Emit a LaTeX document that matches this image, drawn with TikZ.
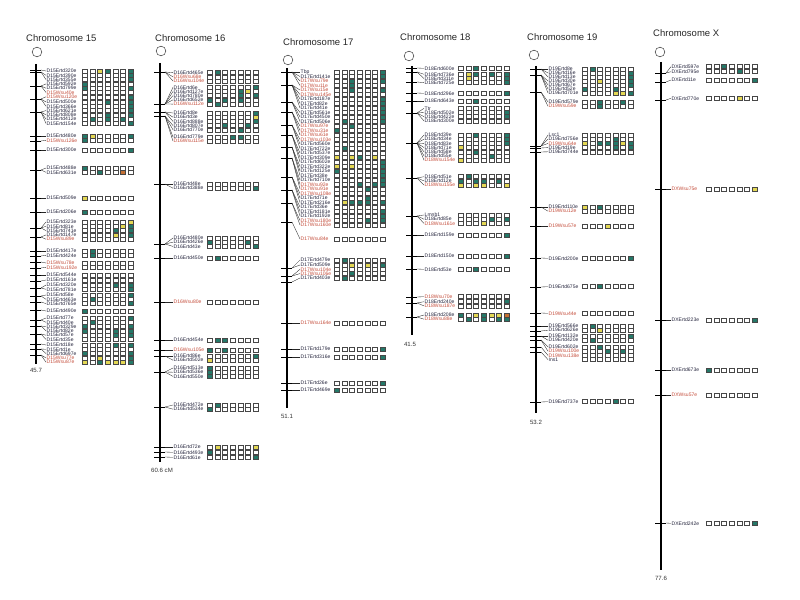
\documentclass[tikz,border=0pt]{standalone}
\usepackage{fontspec}
\setmainfont{Liberation Sans}
\usepackage{xcolor}
\usepackage{tikz}
\usetikzlibrary{positioning}
\definecolor{mkw}{RGB}{255,255,255}
\definecolor{mkt}{RGB}{36,120,104}
\definecolor{mky}{RGB}{228,216,84}
\definecolor{mko}{RGB}{196,112,52}
\definecolor{labk}{RGB}{36,36,60}
\definecolor{labr}{RGB}{196,78,60}
\tikzset{
    chrom/.style={line width=2.4pt, black},
    cen/.style={circle, draw=black!75, line width=0.45pt, minimum size=0.29cm, inner sep=0pt},
    tick/.style={line width=0.5pt, black},
    conn/.style={line width=0.3pt, black!85},
    mlabel/.style={anchor=west, inner sep=0.4pt, font=\fontsize{4.3}{4.5}\selectfont},
    cell/.style={draw=black!72, line width=0.5pt},
    chrtitle/.style={anchor=west, inner sep=0pt, font=\fontsize{8.1}{9}\selectfont, text=black!85},
    endlabel/.style={anchor=north, inner sep=0pt, font=\fontsize{5.2}{6}\selectfont, text=black!80}
}
% one row of seven genotype boxes: x of first box, y, pattern (w/t/y/o)
\newcommand{\cellrow}[3]{\def\cellx{#1}\def\celly{#2}\expandafter\cellnext#3\relax}
\def\cellnext#1{\ifx#1\relax\else
    \draw[cell, fill=mk#1] (\cellx-2.5,\celly-2) rectangle (\cellx+2.5,\celly+2);
    \pgfmathsetmacro\cellx{\cellx+7.6}\expandafter\cellnext\fi}

\begin{document}
\begin{tikzpicture}[x=0.03cm, y=-0.03cm]
    \useasboundingbox (0,0) rectangle (800,600);

    % Chromosome 15
    \begin{scope}[shift={(36,0)}]
        \node[chrtitle] (c15title) at (-10,38) {Chromosome 15};
        \node[cen] (c15cen) at (1,52) {};
        \coordinate (c15top) at (0,64);
        \coordinate (c15bot) at (0,364);
        \draw[chrom] (c15top) -- (c15bot);
        \node[endlabel] (c15end) at (0,368) {45.7};
        \foreach \ty/\ly/\nm/\tc/\pat [count=\n] in {
            70/71/D15Ertd320e/k/wwytwwt, 72/75.3/D15Ertd390e/k/wwwwwwt, 72/79.6/D15Ertd355e/k/wwwwwwt,
            86/83.9/D15Ertd592e/k/twwwwww, 86/88.2/D15Ertd799e/k/twwwwwt, 86/92.5/D15Wsu40e/r/wwwwwww,
            99/96.8/D15Wsu120e/r/wwwwwwt, 99/102/D15Ertd500e/k/wwwtwwt, 99/106.3/D15Ertd366e/k/wwwwwwt,
            112/110.6/D15Ertd621e/k/wwwwwwt, 112/114.9/D15Ertd808e/k/wwwtwwt, 112/119.2/D15Ertd412e/k/wtwtwtw,
            112/123.5/D15Ertd154e/k/wwwwwwt, 136/136/D15Ertd480e/k/tywwwwt, 141/140.3/D15Wsu126e/r/twwwwww,
            150/150/D15Ertd300e/k/wwwwwwt, 170/168/D15Ertd488e/k/twwwwww, 170/172.3/D15Ertd631e/k/wwtwwow,
            198/198/D15Ertd509e/k/ywwwwww, 212/212/D15Ertd206e/k/twwwwww, 228/222/D15Ertd323e/k/wwwwwwy,
            228/226.3/D15Ertd81e/k/wwwwwyt, 228/230.6/D15Ertd741e/k/wwwwtwt, 237/234.9/D15Ertd147e/k/wwwwywt,
            237/239.2/D15Wsu89e/r/wwwwwww, 251/251/D15Ertd417e/k/wtwwwww, 256/255.3/D15Ertd424e/k/wtwwwww,
            262/263/D15Wsu78e/r/wwwwwww, 268/267.3/D15Wsu192e/r/wwwwwww, 275/275/D15Ertd544e/k/wwwwwww,
            281/280/D15Ertd161e/k/wwwwwww, 288/285/D15Ertd320e/k/wwwwtwt, 288/289.3/D15Ertd781e/k/wwwwwwt,
            296/295/D15Ertd58e/k/wwwwwwt, 296/299.3/D15Ertd463e/k/wtwwwww, 302/303.6/D15Ertd765e/k/wwwwwwt,
            310/311/D15Ertd490e/k/twwwwww, 320/318/D15Ertd77e/k/wwwwwwt, 320/322.3/D15Ertd40e/k/wtwwwww,
            326/326.6/D15Ertd329e/k/twwwwwt, 326/330.9/D15Ertd82e/k/twwwtwt, 334/335.2/D15Ertd57e/k/wwwwtwt,
            334/339.5/D15Ertd35e/k/wwwwwww, 344/345/D15Ertd18e/k/wwwwtwt, 349/349.3/D15Ertd1e/k/wwwwwww,
            349/353.6/D15Ertd697e/k/twwwwwt, 355/357.9/D15Wsu77e/r/wwywwwt, 355/362.2/D15Wsu87e/r/ywtyyyt} {
            \draw[tick] (-6,\ty) -- (5,\ty) coordinate (t15-\n);
            \node[mlabel, text=lab\tc] (l15-\n) at (10,\ly) {\nm};
            \draw[conn] (t15-\n) -- (l15-\n.west);
            \cellrow{49}{\ly}{\pat}
        }
    \end{scope}

    % Chromosome 16
    \begin{scope}[shift={(160,0)}]
        \node[chrtitle] (c16title) at (-5,38) {Chromosome 16};
        \node[cen] (c16cen) at (1,51) {};
        \coordinate (c16top) at (0,63);
        \coordinate (c16bot) at (0,462);
        \draw[chrom] (c16top) -- (c16bot);
        \node[endlabel] (c16end) at (2,468) {60.6 cM};
        \foreach \ty/\ly/\nm/\tc/\pat [count=\n] in {
            72/72.7/D16Ertd465e/k/wtwwwww, 72/76.9/D16Wsu68e/r/wwwwwww, 72/81.1/D16Wsu104e/r/wwwwwww,
            104/87.3/D16Ertd6e/k/wwwwwwt, 104/91.5/D16Ertd127e/k/wwwwtyw, 104/95.7/D16Ertd780e/k/wwwwtwt,
            104/99.9/D16Ertd652e/k/twtwtww, 104/104.1/D16Wsu112e/r/wtwwwww, 112/113/D16Ertd8e/k/wwwwwwt,
            112/117.2/D16Ertd3e/k/wwwwwwy, 112/121.4/D16Ertd888e/k/wwwwwwt, 116/125.6/D16Ertd807e/k/wwtwwtw,
            116/129.8/D16Ertd770e/k/wwwwtww, 116/137/D16Ertd779e/k/wwwttww, 116/141.2/D16Wsu115e/r/wwwwwww,
            184/184/D16Ertd48e/k/wwwwwww, 184/188.2/D16Ertd388e/k/wwwwwwt, 244/238/D16Ertd480e/k/wwwwwww,
            244/242.2/D16Ertd426e/k/twwwwtw, 244/246.4/D16Ertd43e/k/wwwwwwt, 258/258/D16Ertd450e/k/wtwwwww,
            302/302/D16Wsu80e/r/wwwwwww, 340/340/D16Ertd454e/k/wttwwww, 350/350/D16Wsu105e/r/twtwwww,
            356/356/D16Ertd86e/k/wwwwwwt, 356/360.2/D16Ertd502e/k/ywwwwww, 372/368/D16Ertd513e/k/twwwwww,
            372/372.2/D16Ertd536e/k/twwwwww, 372/376.4/D16Ertd550e/k/twwwwww, 407/405/D16Ertd472e/k/wtwwwww,
            407/409.2/D16Ertd534e/k/twwwwww, 447/447/D16Ertd72e/k/wywwwwy, 452/452.3/D16Ertd493e/k/twwwwww,
            457/457.3/D16Ertd61e/k/wwwwwwt} {
            \draw[tick] (-6,\ty) -- (5,\ty) coordinate (t16-\n);
            \node[mlabel, text=lab\tc] (l16-\n) at (13,\ly) {\nm};
            \draw[conn] (t16-\n) -- (l16-\n.west);
            \cellrow{50}{\ly}{\pat}
        }
    \end{scope}

    % Chromosome 17
    \begin{scope}[shift={(287,0)}]
        \node[chrtitle] (c17title) at (-4,42) {Chromosome 17};
        \node[cen] (c17cen) at (1,60) {};
        \coordinate (c17top) at (0,68);
        \coordinate (c17bot) at (0,408);
        \draw[chrom] (c17top) -- (c17bot);
        \node[endlabel] (c17end) at (0,414) {51.1};
        \foreach \ty/\ly/\nm/\tc/\pat [count=\n] in {
            72/72/Tbp/k/wwwwwwt, 72/76.5/D17Ertd141e/k/wwwwwwt, 72/81/D17Wsu79e/r/wwtwwwt,
            72/85.5/D17Wsu11e/r/wwtwwww, 85/90/D17Wsu15e/r/wwtwwwt, 85/94.5/D17Wsu145e/r/wwwwwww,
            85/99/D17Ertd187e/k/wwwwwwt, 85/103.5/D17Ertd82e/k/wwwwwwt, 85/108/D17Ertd41e/k/wwwwwwt,
            102/112.5/D17Ertd561e/k/wwwwwwt, 102/117/D17Ertd450e/k/wwwwwwt, 102/121.5/D17Ertd506e/k/wtwwwwt,
            112/126/D17Wsu97e/r/wwtwwww, 112/130.5/D17Wsu31e/r/twwwwww, 112/135/D17Wsu61e/r/wwwwwww,
            125/139.5/D17Wsu103e/r/wwwwwww, 125/144/D17Ertd560e/k/wwwwwww, 125/148.5/D17Ertd722e/k/wtwwwww,
            135/153/D17Ertd537e/k/wwwwwww, 135/157.5/D17Ertd309e/k/ywytwyw, 135/162/D17Ertd602e/k/wwwwwwt,
            147/166.5/D17Ertd322e/k/ywywwwt, 147/171/D17Ertd125e/k/twwwwwt, 147/175.5/D17Ertd38e/k/wwwwwwt,
            158/180/D17Ertd710e/k/wwwwwwt, 158/184.5/D17Wsu92e/r/wwwtwtt, 158/189/D17Wsu91e/r/wwwwtww,
            177/193.5/D17Wsu108e/r/wwwwwww, 177/198/D17Ertd71e/k/wwwwtww, 177/202.5/D17Ertd216e/k/wytttwt,
            190/207/D17Ertd36e/k/wwwwwww, 190/211.5/D17Ertd181e/k/wwwwwwt, 190/216/D17Ertd192e/k/wwwwwwt,
            203/220.5/D17Wsu180e/r/wwwwtwt, 203/225/D17Wsu160e/r/wwwwwww, 222/239/D17Wsu84e/r/wwwwwww,
            268/260/D17Ertd479e/k/wtwwwww, 268/265/D17Ertd509e/k/wwywywt, 276/269.3/D17Wsu104e/r/wwwwwww,
            276/273.6/D17Wsu106e/r/wwtwwww, 282/278/D17Ertd403e/k/wtwwwww, 323/323/D17Wsu164e/r/wwwwwww,
            349/349/D17Ertd179e/k/wwwwwwt, 357/357/D17Ertd316e/k/wwwwwwt, 383/383/D17Ertd26e/k/wwwwwwt,
            390/390/D17Ertd469e/k/twwwwww} {
            \draw[tick] (-6,\ty) -- (5,\ty) coordinate (t17-\n);
            \node[mlabel, text=lab\tc] (l17-\n) at (13,\ly) {\nm};
            \draw[conn] (t17-\n) -- (l17-\n.west);
            \cellrow{50}{\ly}{\pat}
        }
    \end{scope}

    % Chromosome 18
    \begin{scope}[shift={(412,0)}]
        \node[chrtitle] (c18title) at (-12,37) {Chromosome 18};
        \node[cen] (c18cen) at (-3,56) {};
        \coordinate (c18top) at (0,66);
        \coordinate (c18bot) at (0,335);
        \draw[chrom] (c18top) -- (c18bot);
        \node[endlabel] (c18end) at (-2,342) {41.5};
        \foreach \ty/\ly/\nm/\tc/\pat [count=\n] in {
            68/68.3/D18Ertd600e/k/wwtwwww, 72/74.3/D18Ertd736e/k/wytwtwt, 72/78.5/D18Ertd311e/k/wywwwwt,
            82/82.7/D18Ertd725e/k/wwwwwwt, 93/93.3/D18Ertd296e/k/wwwwwwt, 101/101/D18Ertd643e/k/wwtwwww,
            113/108.3/Ttr/k/wwwwwww, 113/112.5/D18Ertd502e/k/wwwwwwt, 113/116.7/D18Ertd422e/k/wwwwwwt,
            113/120.9/D18Ertd300e/k/wwwwwww, 143/135/D18Ertd39e/k/wwtwwwt, 143/139.2/D18Ertd34e/k/wwwwwwt,
            143/143.4/D18Ertd83e/k/wwwwwwt, 143/147.6/D18Ertd71e/k/ywwwwww, 143/151.8/D18Ertd58e/k/wwtwwww,
            143/156/D18Ertd55e/k/wwwwtww, 143/160.2/D18Wsu154e/r/ywwwwww, 178/176.7/D18Ertd51e/k/wtwwwww,
            178/180.9/D18Ertd12e/k/twttwtw, 178/185.1/D18Wsu155e/r/ywyywwy, 216/215/Lmnb1/k/wwwwwww,
            216/219.2/D18Ertd85e/k/wwwwtwt, 216/223.4/D18Wsu161e/r/wwwywww, 235/235/D18Ertd159e/k/wwwwwwt,
            256/256/D18Ertd150e/k/wwwwwwt, 269/269.3/D18Ertd53e/k/wwtwwww, 297/296.7/D18Wsu70e/r/wwwwwww,
            303/301.7/D18Ertd240e/k/wwwwwwt, 303/305.9/D18Wsu187e/r/wwwwwww, 317/315/D18Ertd208e/k/twytyyo,
            317/319.2/D18Wsu88e/r/wtwtwtt} {
            \draw[tick] (-6,\ty) -- (5,\ty) coordinate (t18-\n);
            \node[mlabel, text=lab\tc] (l18-\n) at (12,\ly) {\nm};
            \draw[conn] (t18-\n) -- (l18-\n.west);
            \cellrow{49}{\ly}{\pat}
        }
    \end{scope}

    % Chromosome 19
    \begin{scope}[shift={(536,0)}]
        \node[chrtitle] (c19title) at (-9,37) {Chromosome 19};
        \node[cen] (c19cen) at (-2,55) {};
        \coordinate (c19top) at (0,66);
        \coordinate (c19bot) at (0,413);
        \draw[chrom] (c19top) -- (c19bot);
        \node[endlabel] (c19end) at (0,420) {53.2};
        \foreach \ty/\ly/\nm/\tc/\pat [count=\n] in {
            69/69/D19Ertd8e/k/wtwwwww, 69/73/D19Ertd16e/k/wwwwwwt, 69/77/D19Ertd13e/k/wwwwwwt,
            75/81/D19Ertd30e/k/wwywwwt, 75/85/D19Ertd67e/k/wwwwwwt, 75/89/D19Ertd52e/k/twwwtww,
            75/93/D19Ertd701e/k/wwwwyyt, 92/102/D19Ertd579e/k/wwtwwtw, 92/106.2/D19Wsu59e/r/wwtwwww,
            146/135/Lsc1/k/wwwwwww, 146/139.2/D19Ertd756e/k/wwwwtww, 146/143.4/D19Wsu64e/r/ywtttyt,
            148/147.6/D19Ertd19e/k/wwwwtwt, 152/151.8/D19Ertd744e/k/wwwwwww, 207/207/D19Ertd110e/k/ywtwwww,
            207/211.2/D19Wsu12e/r/wwwwwww, 226/226/D19Wsu57e/r/wwwywww, 258/258.3/D19Ertd200e/k/wwwwwwt,
            287/286.7/D19Ertd675e/k/wwtwwww, 313/313.3/D19Wsu44e/r/wwwwwww, 326/326/D19Ertd566e/k/wtwwwww,
            331/330.2/D19Ertd626e/k/wwywwww, 336/336/D19Ertd132e/k/wwwwwwt, 336/340.2/D19Ertd420e/k/wtwwwww,
            340/347/D19Ertd602e/k/wwtwwww, 340/351.2/D19Wsu100e/r/wwwtwtw, 347/355.4/D19Wsu138e/r/wwwwwww,
            352/359.6/Ins1/k/wwwwwww, 402/401.7/D19Ertd737e/k/wwwwtww} {
            \draw[tick] (-6,\ty) -- (5,\ty) coordinate (t19-\n);
            \node[mlabel, text=lab\tc] (l19-\n) at (12,\ly) {\nm};
            \draw[conn] (t19-\n) -- (l19-\n.west);
            \cellrow{49}{\ly}{\pat}
        }
    \end{scope}

    % Chromosome X
    \begin{scope}[shift={(661,0)}]
        \node[chrtitle] (cXtitle) at (-8,33) {Chromosome X};
        \node[cen] (cXcen) at (-1,52) {};
        \coordinate (cXtop) at (0,62);
        \coordinate (cXbot) at (0,570);
        \draw[chrom] (cXtop) -- (cXbot);
        \node[endlabel] (cXend) at (0,576) {77.6};
        \foreach \ty/\ly/\nm/\tc/\pat [count=\n] in {
            73/66.7/DXErtd597e/k/wwtwwww, 73/71.7/DXErtd795e/k/wwwwtww, 82/80/DXErtd11e/k/wwwwwwt,
            100/98.3/DXErtd770e/k/wwwwyww, 189/189/DXWsu75e/r/wwwwwwy, 320/320/DXErtd223e/k/wwwwwwt,
            370/370/DXErtd673e/k/twwwwww, 395/395/DXWsu57e/r/wwwwwww, 523/523.3/DXErtd242e/k/wwwwwwt} {
            \draw[tick] (-6,\ty) -- (5,\ty) coordinate (tX-\n);
            \node[mlabel, text=lab\tc] (lX-\n) at (10,\ly) {\nm};
            \draw[conn] (tX-\n) -- (lX-\n.west);
            \cellrow{48}{\ly}{\pat}
        }
    \end{scope}
\end{tikzpicture}
\end{document}
